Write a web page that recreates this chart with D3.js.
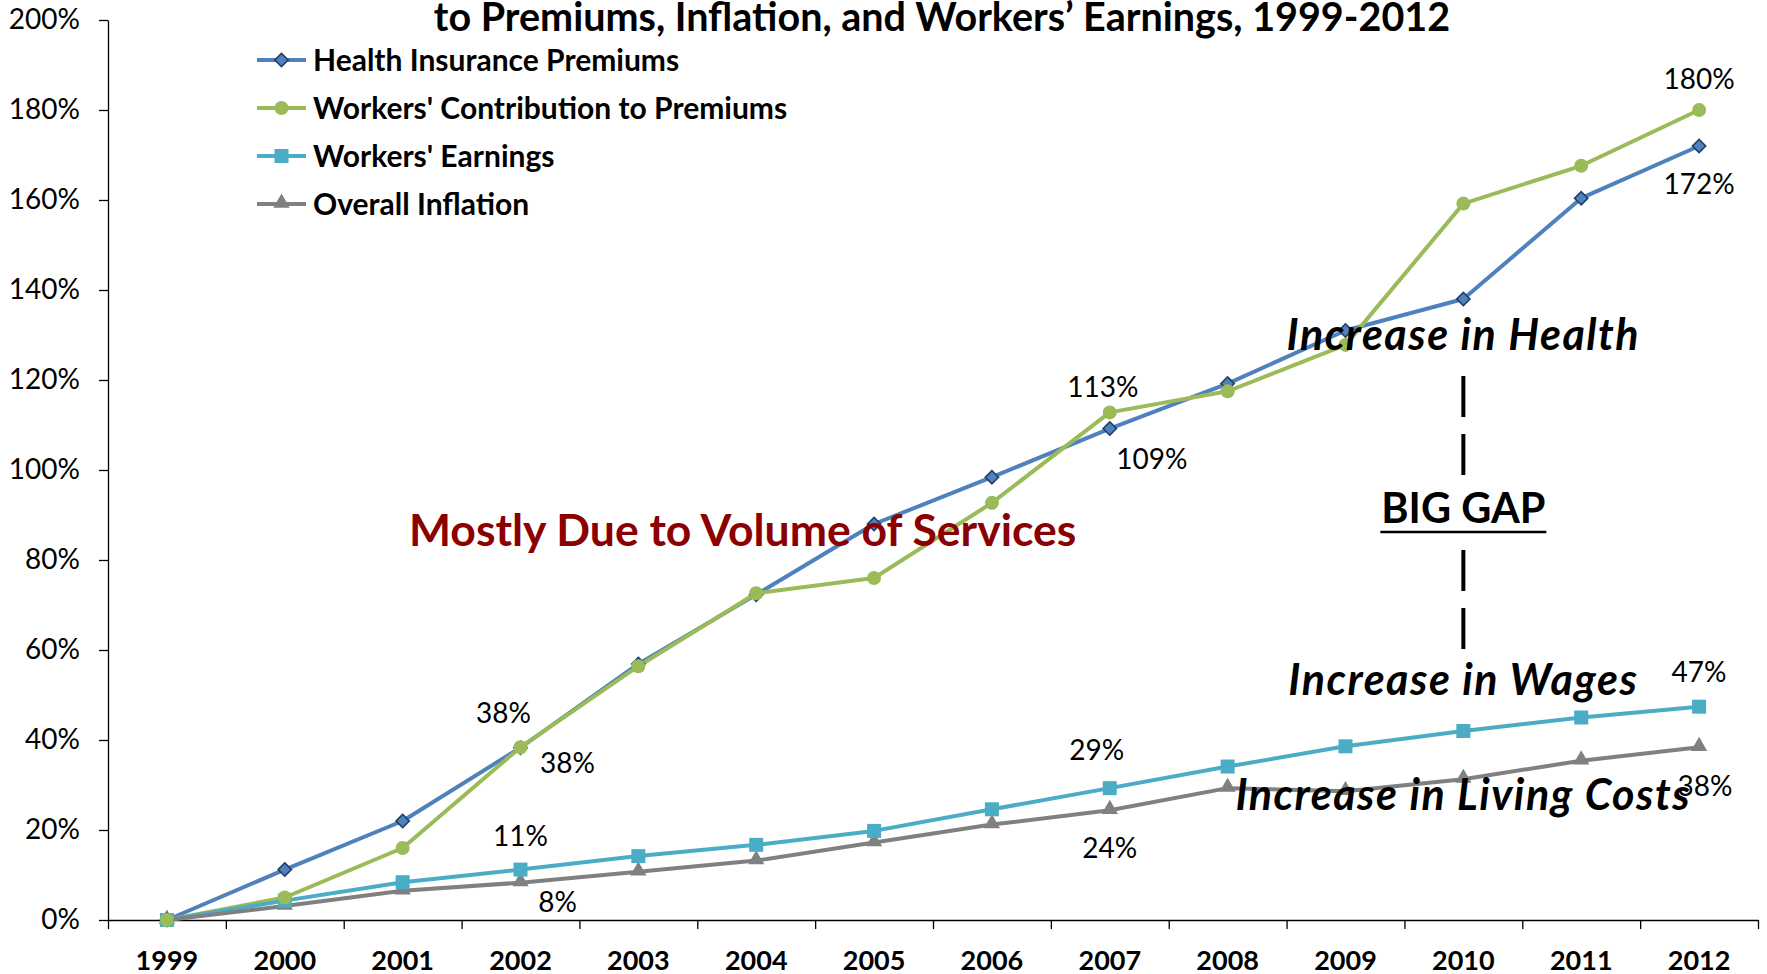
<!DOCTYPE html>
<html>
<head>
<meta charset="utf-8">
<script src="https://cdn.jsdelivr.net/npm/d3@7"></script>
<style>
  body { margin: 0; background: #fff; }
  text { font-family: Lato, "Open Sans", sans-serif; }
</style>
</head>
<body>
<svg id="chart" width="1767" height="974"></svg>
<script>
'use strict';

// values in percent
const years = ["1999","2000","2001","2002","2003","2004","2005","2006","2007","2008","2009","2010","2011","2012"];
const premiums     = [0, 11.2, 22, 38.3, 56.9, 72.3, 88, 98.4, 109.2, 119.2, 131, 138, 160.4, 172];
const contribution = [0, 5, 16, 38.4, 56.4, 72.6, 76, 92.7, 112.8, 117.5, 127.8, 159.2, 167.6, 180];
const earnings     = [0, 4.3, 8.4, 11.2, 14.2, 16.7, 19.8, 24.6, 29.3, 34.1, 38.6, 42, 45, 47.4];
const inflation    = [0, 3.1, 6.5, 8.3, 10.7, 13.2, 17.2, 21.2, 24.4, 29.3, 28.6, 31.3, 35.4, 38.4];
const yTicks = [0, 20, 40, 60, 80, 100, 120, 140, 160, 180, 200];
const seriesNames = ["Health Insurance Premiums", "Workers' Contribution to Premiums", "Workers' Earnings", "Overall Inflation"];
const title = "to Premiums, Inflation, and Workers\u2019 Earnings, 1999-2012";

// which points carry a data label: [series index, year]
const labelled = [[1,"2012"],[0,"2012"],[1,"2007"],[0,"2007"],[1,"2002"],[0,"2002"],
                  [2,"2002"],[3,"2002"],[2,"2007"],[3,"2007"],[2,"2012"],[3,"2012"]];
// label offsets from the point (layout only)
const labelOffsets = [[0,-31],[0,38],[-7,-25],[42,30],[-17,-34],[47,15],
                      [0,-34],[37,19],[-13,-38],[0,38],[0,-35],[6,39]];

const colors  = ["#4F81BD", "#9BBB59", "#4BACC6", "#808080"];
const symbols = ["diamond", "circle", "square", "triangle"];
const values  = [premiums, contribution, earnings, inflation];

const svg = d3.select("#chart"),
      plotLeft = 108, plotRight = 1758, plotTop = 20, plotBottom = 920;

const x = d3.scaleBand().domain(years).range([plotLeft, plotRight]),
      xEdge = d3.scaleLinear().domain([0, years.length]).range([plotLeft, plotRight]),
      y = d3.scaleLinear().domain([0, 200]).range([plotBottom, plotTop]);

function marker(sel, kind, color) {
  if (kind === "circle") {
    sel.append("circle").attr("r", 7).attr("fill", color);
  } else if (kind === "diamond") {
    sel.append("path").attr("d", d3.symbol(d3.symbolSquare, 88)())
      .attr("transform", "rotate(45)")
      .attr("fill", color).attr("stroke", "#1F3F66").attr("stroke-width", 1.6);
  } else if (kind === "square") {
    sel.append("path").attr("d", d3.symbol(d3.symbolSquare, 196)()).attr("fill", color);
  } else {
    sel.append("path").attr("d", d3.symbol(d3.symbolTriangle, 115)())
      .attr("transform", "translate(0,-1)").attr("fill", color);
  }
}

// y axis
const yAxis = svg.append("g")
    .attr("transform", "translate(" + plotLeft + ",0)")
    .call(d3.axisLeft(y).tickValues(yTicks).tickFormat(d => d + "%").tickSize(9).tickPadding(19).tickSizeOuter(0));
yAxis.selectAll("text").style("font-size", "28px").attr("fill", "#000");
yAxis.selectAll("line, path").attr("stroke", "#000").attr("stroke-width", 1.3);

// x axis: ticks between categories, labels at centers
const xTicks = svg.append("g")
    .attr("transform", "translate(0," + plotBottom + ")")
    .call(d3.axisBottom(xEdge).tickValues(d3.range(0, years.length + 1)).tickFormat("").tickSize(9).tickSizeOuter(0));
xTicks.selectAll("line, path").attr("stroke", "#000").attr("stroke-width", 1.3);

const xLabels = svg.append("g")
    .attr("transform", "translate(0," + plotBottom + ")")
    .call(d3.axisBottom(x).tickSize(0).tickPadding(31));
xLabels.select(".domain").remove();
xLabels.selectAll("text").style("font-size", "27px").style("font-weight", "bold").attr("fill", "#000");

// title (top line cut off in the original)
svg.append("text")
    .attr("x", 942).attr("y", 31)
    .attr("text-anchor", "middle")
    .style("font-size", "39.5px").style("font-weight", "bold")
    .text(title);

// lines and markers
const line = d3.line().x((d, i) => x(years[i]) + x.bandwidth() / 2).y(d => y(d));

values.forEach(function(vals, s) {
  svg.append("path")
      .datum(vals)
      .attr("d", line)
      .attr("fill", "none")
      .attr("stroke", colors[s])
      .attr("stroke-width", 4)
      .attr("stroke-linejoin", "round");
});

// draw markers series by series (inflation first so the upper series sit on top)
[3, 2, 0, 1].forEach(function(s) {
  values[s].forEach(function(v, i) {
    const g = svg.append("g")
        .attr("transform", "translate(" + (x(years[i]) + x.bandwidth() / 2) + "," + y(v) + ")");
    marker(g, symbols[s], colors[s]);
  });
});

// legend
seriesNames.forEach(function(name, s) {
  const g = svg.append("g").attr("transform", "translate(257," + (60 + s * 48) + ")");
  g.append("line").attr("x1", 0).attr("x2", 49)
      .attr("stroke", colors[s]).attr("stroke-width", 4);
  const m = g.append("g").attr("transform", "translate(24.5,0)");
  marker(m, symbols[s], colors[s]);
  g.append("text")
      .attr("x", 56).attr("dy", "0.36em")
      .style("font-size", "30px").style("font-weight", "bold")
      .text(name);
});

// data labels
labelled.forEach(function(d, k) {
  const s = d[0], i = years.indexOf(d[1]), v = values[s][i];
  svg.append("text")
      .attr("x", x(d[1]) + x.bandwidth() / 2 + labelOffsets[k][0])
      .attr("y", y(v) + labelOffsets[k][1])
      .attr("dy", "0.36em")
      .attr("text-anchor", "middle")
      .style("font-size", "28px")
      .text(Math.round(v) + "%");
});

// annotations
const gapX = x("2010") + x.bandwidth() / 2;

svg.append("text")
    .attr("x", 409).attr("y", 546)
    .attr("fill", "#8B0000")
    .style("font-size", "44.5px").style("font-weight", "bold")
    .text("Mostly Due to Volume of Services");

svg.append("line")
    .attr("x1", gapX).attr("x2", gapX)
    .attr("y1", 376).attr("y2", 649)
    .attr("stroke", "#000").attr("stroke-width", 4)
    .attr("stroke-dasharray", "41,17");

svg.append("rect")
    .attr("x", gapX - 88).attr("y", 480)
    .attr("width", 176).attr("height", 62)
    .attr("fill", "#fff");

svg.append("text")
    .attr("x", gapX).attr("y", 523)
    .attr("text-anchor", "middle")
    .style("font-size", "41.5px").style("font-weight", "bold")
    .text("BIG GAP");

svg.append("line")
    .attr("x1", gapX - 83).attr("x2", gapX + 83)
    .attr("y1", 532).attr("y2", 532)
    .attr("stroke", "#000").attr("stroke-width", 2.6);

[["Increase in Health", 350], ["Increase in Wages", 695], ["Increase in Living Costs", 810]].forEach(function(a) {
  svg.append("text")
      .attr("x", gapX).attr("y", a[1])
      .attr("text-anchor", "middle")
      .style("font-size", "43px").style("font-weight", "bold").style("font-style", "italic")
      .style("letter-spacing", "1.5px")
      .text(a[0]);
});
</script>
</body>
</html>
